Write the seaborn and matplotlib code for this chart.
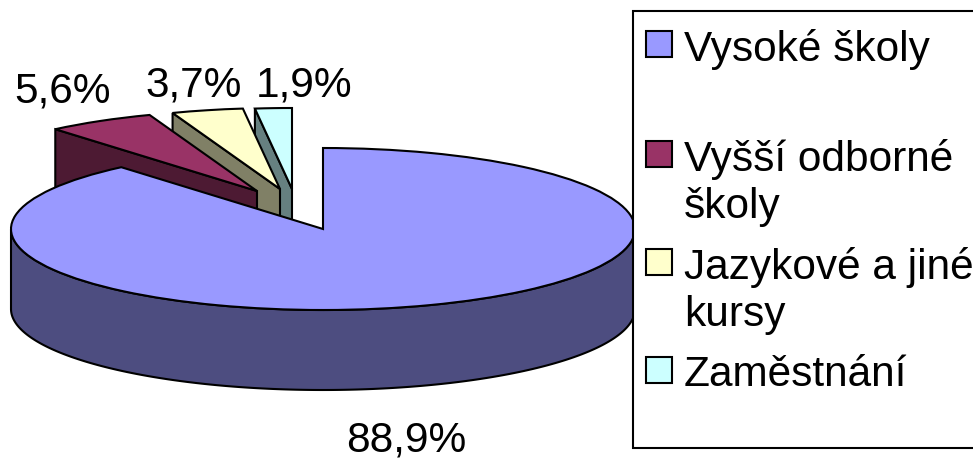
import numpy as np
import seaborn as sns
import matplotlib
matplotlib.use("Agg")
import matplotlib.pyplot as plt
from matplotlib.patches import Rectangle
from matplotlib.transforms import Affine2D

categories = ["Vysoké školy", "Vyšší odborné\nškoly", "Jazykové a jiné\nkursy", "Zaměstnání"]
values = [88.9, 5.6, 3.7, 1.9]
value_labels = ["88,9%", "5,6%", "3,7%", "1,9%"]
top_colors = ["#9999FF", "#993366", "#FFFFCC", "#CCFFFF"]
wall_colors = ["#4D4D80", "#4D1A33", "#808066", "#668080"]

sns.set_theme(style="white")
plt.rcParams['font.family'] = ['Liberation Sans', 'DejaVu Sans']

W, H = 973, 460
CX, CY, RX, RY, DEPTH = 323, 230, 312, 81, 80
offsets = [(0, 0), (-66, -38), (-43, -40), (-31, -40)]   # pixel shift of exploded slices
wall_z = [2.0, 1.5, 1.3, 1.1]
top_z = [3.0, 1.6, 1.4, 1.2]
LW = 1.5

fig = plt.figure(figsize=(W / 100, H / 100), dpi=100, facecolor="white")
ax = fig.add_axes([0, 0, 1, 1])


def draw_slice(i, start, sweep):
    """One slice: walls computed from its angles, top surface via ax.pie."""
    dx, dy = offsets[i]
    cx, cy = CX + dx, CY + dy
    end = start - sweep
    # outer rim wall (only the part that faces the viewer)
    th = np.radians(np.linspace(end, start, 800))
    t = th[np.sin(th) <= 0]
    if t.size:
        xs = cx + RX * np.cos(t)
        ys = cy - RY * np.sin(t)
        ax.fill(np.r_[xs, xs[::-1]], np.r_[ys, ys[::-1] + DEPTH],
                fc=wall_colors[i], ec="black", lw=LW, zorder=wall_z[i])
    # radial wall on the slice's left edge
    if i > 0:
        t0 = np.radians(start)
        ex, ey = cx + RX * np.cos(t0), cy - RY * np.sin(t0)
        ax.fill([ex, cx, cx, ex], [ey, cy, cy + DEPTH, ey + DEPTH],
                fc=wall_colors[i], ec="black", lw=LW, zorder=wall_z[i])
    # top surface: a pie wedge squashed to the ellipse
    fracs = [sweep / 360, 1 - sweep / 360]
    wedges, _ = ax.pie(fracs, startangle=end, counterclock=True, radius=1,
                       colors=[top_colors[i], "none"],
                       wedgeprops=dict(linewidth=LW), frame=True)
    wedges[0].set_edgecolor("black")
    wedges[1].set_visible(False)
    wedges[0].set_transform(Affine2D().scale(RX, -RY).translate(cx, cy) + ax.transData)
    wedges[0].set_zorder(top_z[i])


total = sum(values)
start = 90.0
for i, v in enumerate(values):
    span = v / total * 360
    draw_slice(i, start, span)
    start -= span

ax.set_aspect("auto")
ax.set_xlim(0, W)
ax.set_ylim(H, 0)
ax.axis("off")

FS = 30.5
for txt, (x, y) in zip(value_labels, [(406, 441), (63, 91), (194, 85), (304, 85)]):
    ax.text(x, y, txt, fontsize=FS, ha="center", va="center", color="black", zorder=5)

# legend box
ax.add_patch(Rectangle((632.5, 11.5), 345, 437.5, fc="white", ec="black", lw=LW, zorder=4, clip_on=False))
legend_y = [45, 155, 263, 371]
for lab, col, y in zip(categories, top_colors, legend_y):
    ax.add_patch(Rectangle((645.5, y - 13), 26, 26, fc=col, ec="black", lw=LW, zorder=5))
    ax.text(684, y - 16, lab, fontsize=FS, ha="left", va="top", color="black",
            linespacing=1.22, zorder=5)

fig.savefig("out.png", dpi=100)
